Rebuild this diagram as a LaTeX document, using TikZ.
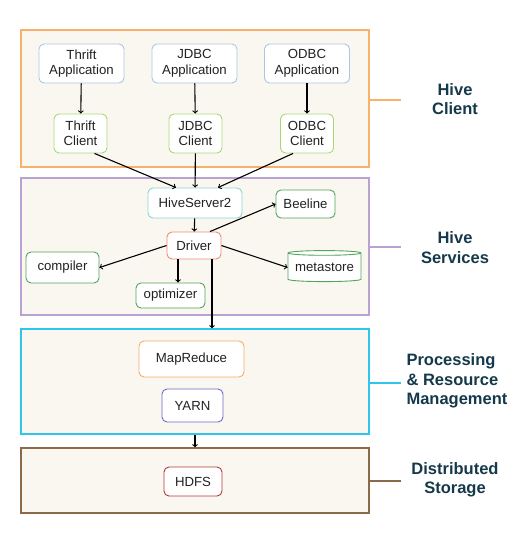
\documentclass[tikz,border=0pt]{standalone}
\usepackage{fontspec}
\setmainfont{Liberation Sans}
\usetikzlibrary{shapes.geometric}
\definecolor{panelbg}{HTML}{FAF7F0}
\definecolor{clientc}{HTML}{F8B06A}
\definecolor{servc}{HTML}{B8A2D2}
\definecolor{procc}{HTML}{2FC6EC}
\definecolor{storc}{HTML}{8C6A48}
\definecolor{appc}{HTML}{A8C7E6}
\definecolor{clic}{HTML}{A8D874}
\definecolor{hsc}{HTML}{88D5D0}
\definecolor{greenc}{HTML}{52A55C}
\definecolor{drvc}{HTML}{EC8B78}
\definecolor{mrc}{HTML}{F4AE66}
\definecolor{yarnc}{HTML}{6B6BCB}
\definecolor{hdfsc}{HTML}{B03A3A}
\definecolor{tagtxt}{HTML}{15394A}
\definecolor{nodetxt}{HTML}{222222}
\begin{document}
\begin{tikzpicture}[x=1pt,y=-1pt,>=to,
    panel/.style={draw,line width=1.3pt,fill=panelbg,minimum width=348pt,minimum height=#1},
    box/.style={draw,rounded corners=5pt,fill=white,line width=0.9pt,align=center,inner sep=0pt,
        font=\fontsize{13.2}{15.5}\selectfont,text=nodetxt},
    tag/.style={font=\fontsize{16.5}{19.5}\selectfont\bfseries,text=tagtxt,align=center},
    link/.style={->,line width=1.1pt}]
    \useasboundingbox (0,0) rectangle (530,540);
    \node[panel=137pt,draw=clientc] (client) at (195,98.5) {};
    \node[panel=137pt,draw=servc] (serv) at (195,246.5) {};
    \node[panel=105pt,draw=procc] (proc) at (195,381.5) {};
    \node[panel=65pt,draw=storc] (stor) at (195,480.5) {};
    \draw[clientc,line width=2pt] ([yshift=-1.5pt]client.east) -- ++(31,0);
    \draw[servc,line width=2pt] ([yshift=-0.5pt]serv.east) -- ++(31,0);
    \draw[procc,line width=2pt] ([yshift=-1.5pt]proc.east) -- ++(31,0);
    \draw[storc,line width=2pt] ([yshift=-0.5pt]stor.east) -- ++(31,0);
    \node[tag] (tclient) at (455,99) {Hive\\Client};
    \node[tag] (tserv) at (455,247.5) {Hive\\Services};
    \node[tag,anchor=west,align=left] (tproc) at (403,381) {Processing\\\& Resource\\Management};
    \node[tag] (tstor) at (455,480) {Distributed\\Storage};
    \node[box,draw=appc,minimum width=85pt,minimum height=39pt] (tapp) at (81.5,63.5) {Thrift\\Application};
    \node[box,draw=appc,minimum width=85pt,minimum height=39pt] (japp) at (194.5,63.5) {JDBC\\Application};
    \node[box,draw=appc,minimum width=85pt,minimum height=39pt] (oapp) at (307,63.5) {ODBC\\Application};
    \node[box,draw=clic,minimum width=53pt,minimum height=39pt] (tcli) at (80.5,133.5) {Thrift\\Client};
    \node[box,draw=clic,minimum width=53pt,minimum height=39pt] (jcli) at (195.5,133.5) {JDBC\\Client};
    \node[box,draw=clic,minimum width=53pt,minimum height=39pt] (ocli) at (307,133.5) {ODBC\\Client};
    \node[box,draw=hsc,minimum width=94pt,minimum height=30pt] (hs2) at (195,203) {HiveServer2};
    \node[box,draw=greenc,minimum width=59pt,minimum height=28pt] (bee) at (305.5,204) {Beeline};
    \node[box,draw=drvc,minimum width=54pt,minimum height=27pt] (drv) at (194,245.5) {Driver};
    \node[box,draw=greenc,minimum width=73pt,minimum height=31pt] (comp) at (62.5,267.5) {compiler};
    \node[box,draw=greenc,minimum width=69pt,minimum height=25pt] (opt) at (170.5,295.5) {optimizer};
    \node[box,rounded corners=0pt,draw=greenc,shape=cylinder,shape border rotate=90,aspect=0.08,
        minimum width=73pt,minimum height=31pt] (meta) at (324.5,267.5) {metastore};
    \node[box,draw=mrc,minimum width=105pt,minimum height=36pt] (mr) at (191.5,359) {MapReduce};
    \node[box,draw=yarnc,minimum width=61pt,minimum height=33pt] (yarn) at (192.5,405.5) {YARN};
    \node[box,draw=hdfsc,minimum width=58pt,minimum height=29pt] (hdfs) at (193,481.5) {HDFS};
    \draw[link] (tapp) -- (tcli);
    \draw[link] (japp) -- (jcli);
    \draw[link] (oapp) -- (ocli);
    \draw[link] (tcli.305) -- ([xshift=-19pt]hs2.north);
    \draw[link] (jcli) -- (hs2);
    \draw[link] (ocli.235) -- ([xshift=23pt]hs2.north);
    \draw[link] (hs2) -- (drv);
    \draw[link] ([xshift=16pt]drv.north) -- (bee.west);
    \draw[link] (drv.west) -- (comp.east);
    \draw[link] ([xshift=-16pt]drv.south) -- ([xshift=-16pt]drv.south |- opt.north);
    \draw[link] (drv.east) -- (meta.west);
    \draw[link] ([xshift=18pt]drv.south) -- ([xshift=18pt]drv.south |- proc.north);
    \draw[link] (proc.south) -- (stor.north);
\end{tikzpicture}
\end{document}
